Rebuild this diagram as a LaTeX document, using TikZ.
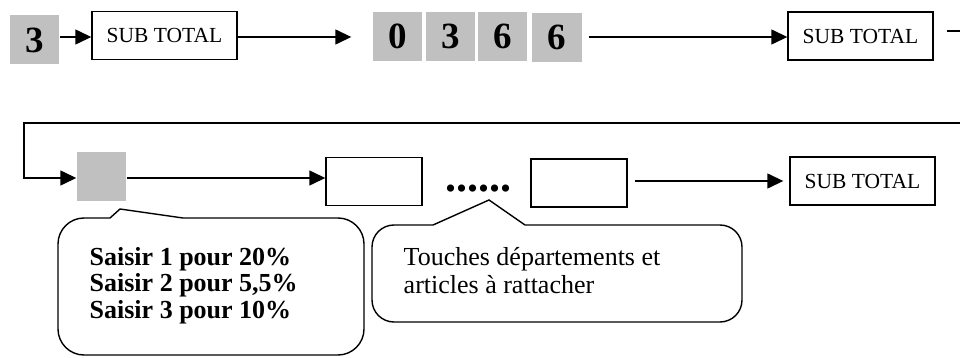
\documentclass[tikz,border=0pt]{standalone}
\usepackage{fontspec}
\setmainfont{Liberation Serif}
\usetikzlibrary{arrows.meta}
\definecolor{keygrey}{HTML}{C0C0C0}
\begin{document}
\begin{tikzpicture}[x=1pt,y=-1pt,line width=1.4pt,
  arr/.style={-{Triangle[length=16pt,width=15pt]}},
  keybox/.style={fill=keygrey,minimum width=49pt,minimum height=49pt,inner sep=0pt,
    font=\fontsize{37}{37}\selectfont\bfseries},
  stbox/.style={draw,minimum width=145pt,minimum height=48pt,inner sep=0pt,
    font=\fontsize{21.5}{21.5}\selectfont},
  emptybox/.style={draw,minimum width=96pt,minimum height=48pt,inner sep=0pt}]
\useasboundingbox (0,0) rectangle (960,358);
% top row
\node[keybox] (three) at (34.5,40) {3};
\node[stbox] (sub1) at (164.5,35.5) {SUB TOTAL};
\node[keybox] (d0) at (397.5,36.5) {0};
\node[keybox] (d1) at (450.5,36.5) {3};
\node[keybox] (d2) at (502.5,36.5) {6};
\node[keybox,minimum width=50pt] (d3) at (557,37.5) {6};
\node[stbox] (sub2) at (860.5,36) {SUB TOTAL};
\coordinate (r1) at (0,37);
\draw[arr] (three.east |- r1) -- (sub1.west |- r1);
\draw[arr,shorten >=21pt] (sub1.east |- r1) -- (d0.west |- r1);
\draw[arr,shorten <=6pt] (d3.east |- r1) -- (sub2.west |- r1);
\coordinate (stubA) at (947,31);
\coordinate (stubB) at (960,31);
\draw (stubA) -- (stubB);
% second row
\node[keybox] (g) at (101.5,176.5) {};
\node[emptybox] (b1) at (374,181.5) {};
\node[font=\fontsize{44}{44}\selectfont\bfseries,anchor=base,inner sep=0pt] (dots) at (478,191) {......};
\node[emptybox] (b2) at (579,183) {};
\node[stbox] (sub3) at (862.5,181) {SUB TOTAL};
\coordinate (ltopR) at (960,123);
\coordinate (ltopL) at (24,123);
\coordinate (lcorner) at (24,178);
\draw[arr] (ltopR) -- (ltopL) -- (lcorner) -- (g.west |- lcorner);
\draw[arr] (g.east |- lcorner) -- (b1.west |- lcorner);
\coordinate (r3) at (0,181);
\draw[arr,shorten <=7pt,shorten >=6pt] (b2.east |- r3) -- (sub3.west |- r3);
% callouts
\draw (183,218) [rounded corners=26pt] -- (364,218) -- (364,355) -- (58,355) -- (58,218)
  [sharp corners] -- (110,218) -- (120,209) -- cycle;
\draw (525,225) [rounded corners=22pt] -- (742,225) -- (742,322) -- (372,322) -- (372,225)
  [sharp corners] -- (433,225) -- (489,200) -- cycle;
\node[anchor=base west,align=left,inner sep=0pt,font=\fontsize{26}{26.5}\selectfont\bfseries] (t1) at (89,318)
  {Saisir 1 pour 20\%\\Saisir 2 pour 5,5\%\\Saisir 3 pour 10\%};
\node[anchor=base west,align=left,inner sep=0pt,font=\fontsize{26}{28}\selectfont] (t2) at (403,293)
  {Touches départements et\\articles à rattacher};
\end{tikzpicture}
\end{document}
